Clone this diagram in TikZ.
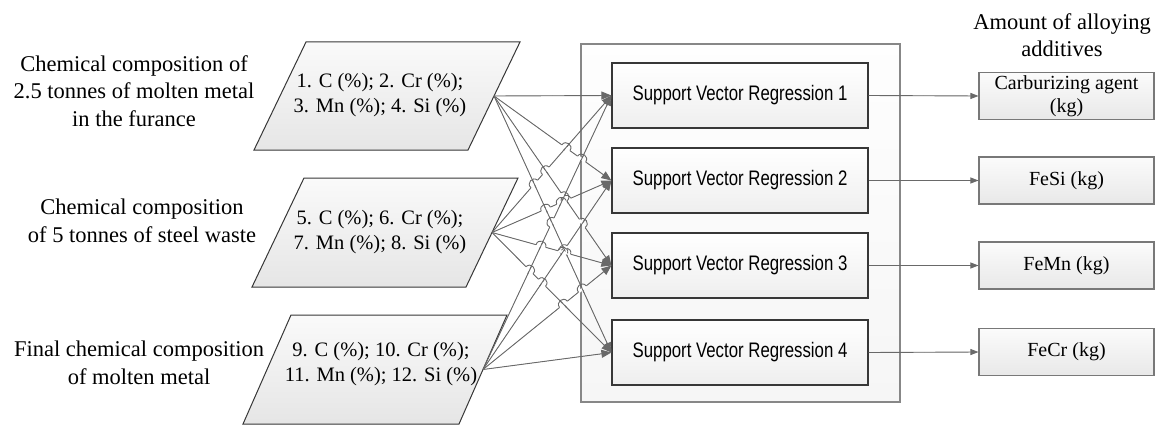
\documentclass[tikz,border=0pt]{standalone}
\usepackage{fontspec}
\setmainfont{Liberation Serif}
\newfontfamily\svrfont[FakeStretch=0.8]{Liberation Sans}
\usetikzlibrary{arrows.meta,calc,intersections}
\definecolor{linec}{RGB}{105,105,105}
\definecolor{boxline}{RGB}{55,55,55}
\definecolor{outline}{RGB}{120,120,120}
\definecolor{bigline}{RGB}{135,135,135}
\newcommand{\hop}[4]{%
  \path[name intersections={of=L#1#2 and L#3#4, by=X}];
  \draw[white, line width=2.6pt] ($(X)!5pt!(o#1)$) -- ($(X)!5pt!(t#2)$);
  \draw[conn] ($(X)!4pt!(o#3)$) -- ($(X)!4pt!(t#4)$);
  \draw[conn] ($(X)!5pt!(o#1)$) to[bend left=90,looseness=1.7] ($(X)!5pt!(t#2)$);
}
\begin{document}
\begin{tikzpicture}[x=1pt,y=-1pt,
  lbl/.style={align=center, font=\fontsize{22.5}{27.5}\selectfont, inner sep=0pt},
  par/.style={draw=boxline, line width=1pt, top color=gray!4, bottom color=gray!20},
  ptxt/.style={align=center, font=\fontsize{20.5}{24.5}\selectfont, inner sep=0pt},
  svr/.style={draw=boxline, line width=1.2pt, top color=white, bottom color=gray!13,
    minimum width=256pt, minimum height=65pt, inner sep=0pt,
    font=\svrfont\fontsize{21}{25}\selectfont},
  outb/.style={draw=outline, line width=1.1pt, top color=gray!3, bottom color=gray!18,
    minimum width=175pt, minimum height=47pt, inner sep=0pt, align=center,
    font=\fontsize{20}{23}\selectfont},
  conn/.style={draw=linec, line width=0.9pt},
  tip/.style={-{Triangle[length=10pt,width=8pt]}},
  otip/.style={-{Triangle[length=8pt,width=6pt]}}
]
\useasboundingbox (0,0) rectangle (1158,425);

% left labels
\node[lbl] (l1) at (134,91) {Chemical composition of\\2.5 tonnes of molten metal\\in the furance};
\node[lbl] (l2) at (142,221) {Chemical composition\\of 5 tonnes of steel waste};
\node[lbl] (l3) at (139,363) {Final chemical composition\\of molten metal};

% parallelograms
\path[par] (306,42) -- (520,42) -- (468,150) -- (254,150) -- cycle;
\path[par] (304,178) -- (518,178) -- (466,287) -- (252,287) -- cycle;
\path[par] (291,315) -- (507,315) -- (459,424) -- (243,424) -- cycle;
\node[ptxt] (p1) at (380,95) {1. C (\%); 2. Cr (\%);\\3. Mn (\%); 4. Si (\%)};
\node[ptxt] (p2) at (380,232) {5. C (\%); 6. Cr (\%);\\7. Mn (\%); 8. Si (\%)};
\node[ptxt] (p3) at (381,364) {9. C (\%); 10. Cr (\%);\\11. Mn (\%); 12. Si (\%)};
\coordinate (o1) at (494,96);
\coordinate (o2) at (492,232.5);
\coordinate (o3) at (483,369.5);

% big box
\node[draw=bigline, line width=1.3pt, top color=gray!1, bottom color=gray!7,
  minimum width=319pt, minimum height=358pt] (big) at (740.5,223) {};

% SVR boxes
\node[svr] (s1) at (740,95.5) {Support Vector Regression 1};
\node[svr] (s2) at (740,180.5) {Support Vector Regression 2};
\node[svr] (s3) at (740,265.5) {Support Vector Regression 3};
\node[svr] (s4) at (740,352.5) {Support Vector Regression 4};
\foreach \k in {1,2,3,4} { \coordinate (t\k) at (s\k.west); }

% outputs
\node[lbl] (hd) at (1062,35) {Amount of alloying\\additives};
\node[outb] (r1) at (1066.5,96) {Carburizing agent\\(kg)};
\node[outb] (r2) at (1066.5,180.5) {FeSi (kg)};
\node[outb] (r3) at (1066.5,265.5) {FeMn (kg)};
\node[outb] (r4) at (1066.5,352) {FeCr (kg)};

\foreach \k in {1,2,3,4} {
  \draw[conn, otip, fill=linec] (s\k.east) -- (r\k.west);
}

% input connectors
\foreach \a in {1,2,3} {
  \foreach \k in {1,2,3,4} {
    \draw[conn, tip, fill=boxline, name path global=L\a\k] (o\a) -- (t\k);
  }
}

% line jumps
\hop{1}{2}{2}{1}
\hop{2}{1}{1}{3}
\hop{2}{2}{1}{3}
\hop{2}{1}{1}{4}
\hop{2}{2}{1}{4}
\hop{2}{3}{1}{4}
\hop{1}{2}{3}{1}
\hop{1}{3}{3}{1}
\hop{1}{3}{3}{2}
\hop{3}{1}{1}{4}
\hop{3}{2}{1}{4}
\hop{3}{3}{1}{4}
\hop{2}{2}{3}{1}
\hop{2}{3}{3}{1}
\hop{2}{3}{3}{2}
\hop{2}{4}{3}{1}
\hop{2}{4}{3}{2}
\hop{3}{3}{2}{4}
\end{tikzpicture}
\end{document}
